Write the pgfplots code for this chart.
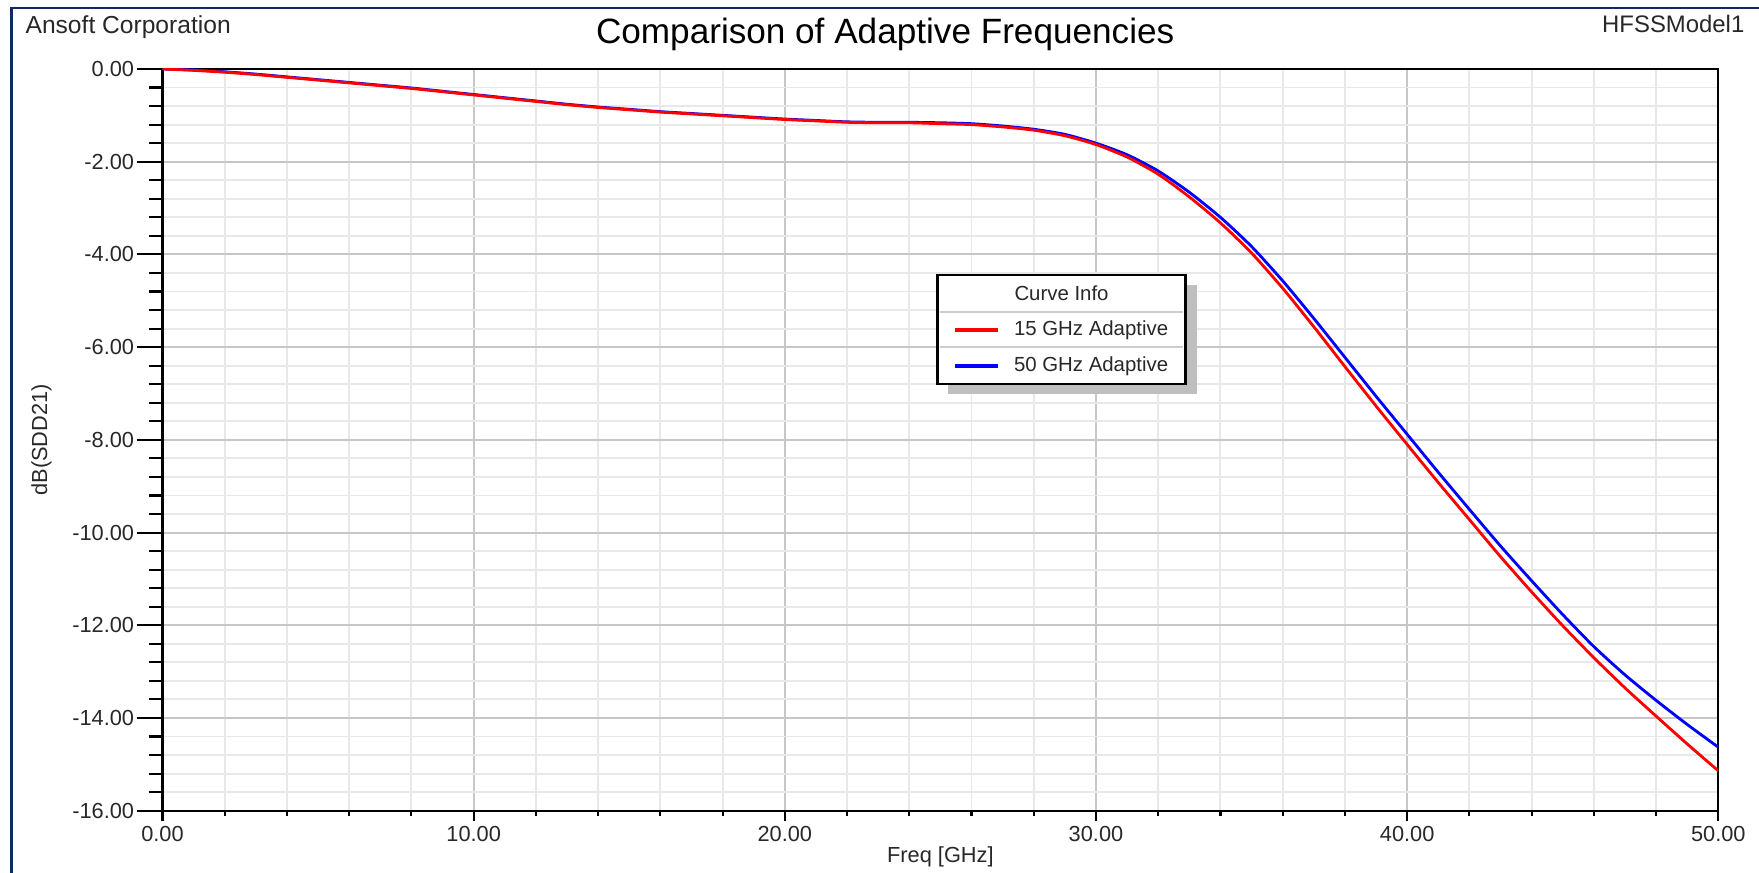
\documentclass[border=0pt]{standalone}
\usepackage{fontspec}
\setmainfont{Liberation Sans}
\usepackage{pgfplots}
\pgfplotsset{compat=1.18}
\definecolor{frameblue}{RGB}{16,42,100}
\definecolor{ticktext}{RGB}{40,40,40}

\pgfplotstableread{
f dB
0 0
1 -0.03
2 -0.07
3 -0.12
4 -0.18
5 -0.24
6 -0.30
7 -0.36
8 -0.42
9 -0.49
10 -0.56
11 -0.63
12 -0.70
13 -0.77
14 -0.83
15 -0.88
16 -0.93
17 -0.97
18 -1.01
19 -1.05
20 -1.09
21 -1.12
22 -1.15
23 -1.16
24 -1.16
25 -1.18
26 -1.20
27 -1.25
28 -1.32
29 -1.44
30 -1.63
31 -1.90
32 -2.27
33 -2.76
34 -3.32
35 -3.97
36 -4.73
37 -5.56
38 -6.42
39 -7.27
40 -8.10
41 -8.92
42 -9.72
43 -10.52
44 -11.28
45 -12.01
46 -12.70
47 -13.35
48 -13.96
49 -14.56
50 -15.14
}\redtab

\pgfplotstableread{
f dB
0 0
1 -0.02
2 -0.06
3 -0.11
4 -0.17
5 -0.23
6 -0.29
7 -0.35
8 -0.41
9 -0.48
10 -0.55
11 -0.62
12 -0.69
13 -0.76
14 -0.82
15 -0.87
16 -0.92
17 -0.96
18 -1.00
19 -1.04
20 -1.08
21 -1.11
22 -1.14
23 -1.15
24 -1.15
25 -1.16
26 -1.18
27 -1.23
28 -1.30
29 -1.41
30 -1.60
31 -1.85
32 -2.20
33 -2.66
34 -3.20
35 -3.83
36 -4.57
37 -5.38
38 -6.22
39 -7.06
40 -7.88
41 -8.70
42 -9.50
43 -10.29
44 -11.04
45 -11.77
46 -12.46
47 -13.07
48 -13.62
49 -14.14
50 -14.63
}\bluetab

\begin{document}
\begin{tikzpicture}
\path[use as bounding box] (0,0) rectangle (17.59,8.72);
\draw[frameblue, line width=0.8pt] (0.115,-0.5) -- (0.115,8.64) -- (18,8.64);
\begin{axis}[
  at={(1.625cm,0.613cm)}, anchor=south west,
  scale only axis, width=15.558cm, height=7.417cm,
  xmin=0, xmax=50, ymin=-16, ymax=0,
  xtick={0,10,...,50}, xticklabels={0.00,10.00,20.00,30.00,40.00,50.00},
  ytick={-16,-14,...,0},
  yticklabels={-16.00,-14.00,-12.00,-10.00,-8.00,-6.00,-4.00,-2.00,0.00},
  minor x tick num=4, minor y tick num=4,
  tick align=outside, tick pos=left,
  axis line style={black, line width=0.6pt},
  tick style={black, line width=0.6pt},
  xtick style={/pgfplots/major tick length=0.107cm, /pgfplots/minor tick length=0.05cm},
  ytick style={/pgfplots/major tick length=0.26cm, /pgfplots/minor tick length=0.14cm},
  grid=both,
  major grid style={draw=black!22, line width=0.55pt},
  minor grid style={draw=black!9, line width=0.55pt},
  tick label style={font=\fontsize{6.2}{7}\selectfont, text=ticktext},
  xticklabel style={inner sep=0pt},
  yticklabel style={inner sep=0pt, xshift=-0.127cm},
  xlabel={Freq [GHz]}, ylabel={dB(SDD21)},
  label style={font=\fontsize{6.2}{7}\selectfont, text=ticktext, inner sep=0pt},
  xlabel style={at={(axis description cs:0.5,0)}, anchor=base, yshift=-0.513cm},
  ylabel style={at={(axis description cs:-0.0742,0.5)}, anchor=base},
  title={Comparison of Adaptive Frequencies},
  title style={at={(axis description cs:0.4645,1.0378)}, anchor=base, inner sep=0pt,
    yshift=-0.24cm, font=\fontsize{10}{12}\selectfont, text=black},
]
\addplot[blue, line width=0.8pt, smooth, tension=0.4] table[x=f, y=dB] {\bluetab};
\addplot[red, line width=0.8pt, smooth, tension=0.4] table[x=f, y=dB] {\redtab};
\end{axis}
% legend box (Curve Info)
\fill[black!25] (9.483,4.78) rectangle (11.967,5.87);
\draw[black, line width=0.7pt, fill=white] (9.373,4.88) rectangle (11.857,5.97);
\draw[black!20, line width=0.5pt] (9.40,5.603) -- (11.83,5.603);
\draw[black!20, line width=0.5pt] (9.40,5.247) -- (11.83,5.247);
\node[inner sep=0pt, font=\fontsize{5.8}{7}\selectfont, text=ticktext] at (10.615,5.787) {Curve Info};
\draw[red, line width=1pt] (9.55,5.42) -- (9.983,5.42);
\draw[blue, line width=1pt] (9.55,5.06) -- (9.983,5.06);
\node[anchor=west, inner sep=0pt, font=\fontsize{5.8}{7}\selectfont, text=ticktext] at (10.133,5.42) {15 GHz Adaptive};
\node[anchor=west, inner sep=0pt, font=\fontsize{5.8}{7}\selectfont, text=ticktext] at (10.133,5.06) {50 GHz Adaptive};
\node[anchor=base west, inner sep=0pt, font=\fontsize{7}{8}\selectfont, text=ticktext] at (0.249,8.385) {Ansoft Corporation};
\node[anchor=base east, inner sep=0pt, font=\fontsize{6.8}{8}\selectfont, text=ticktext] at (17.45,8.39) {HFSSModel1};
\end{tikzpicture}
\end{document}
